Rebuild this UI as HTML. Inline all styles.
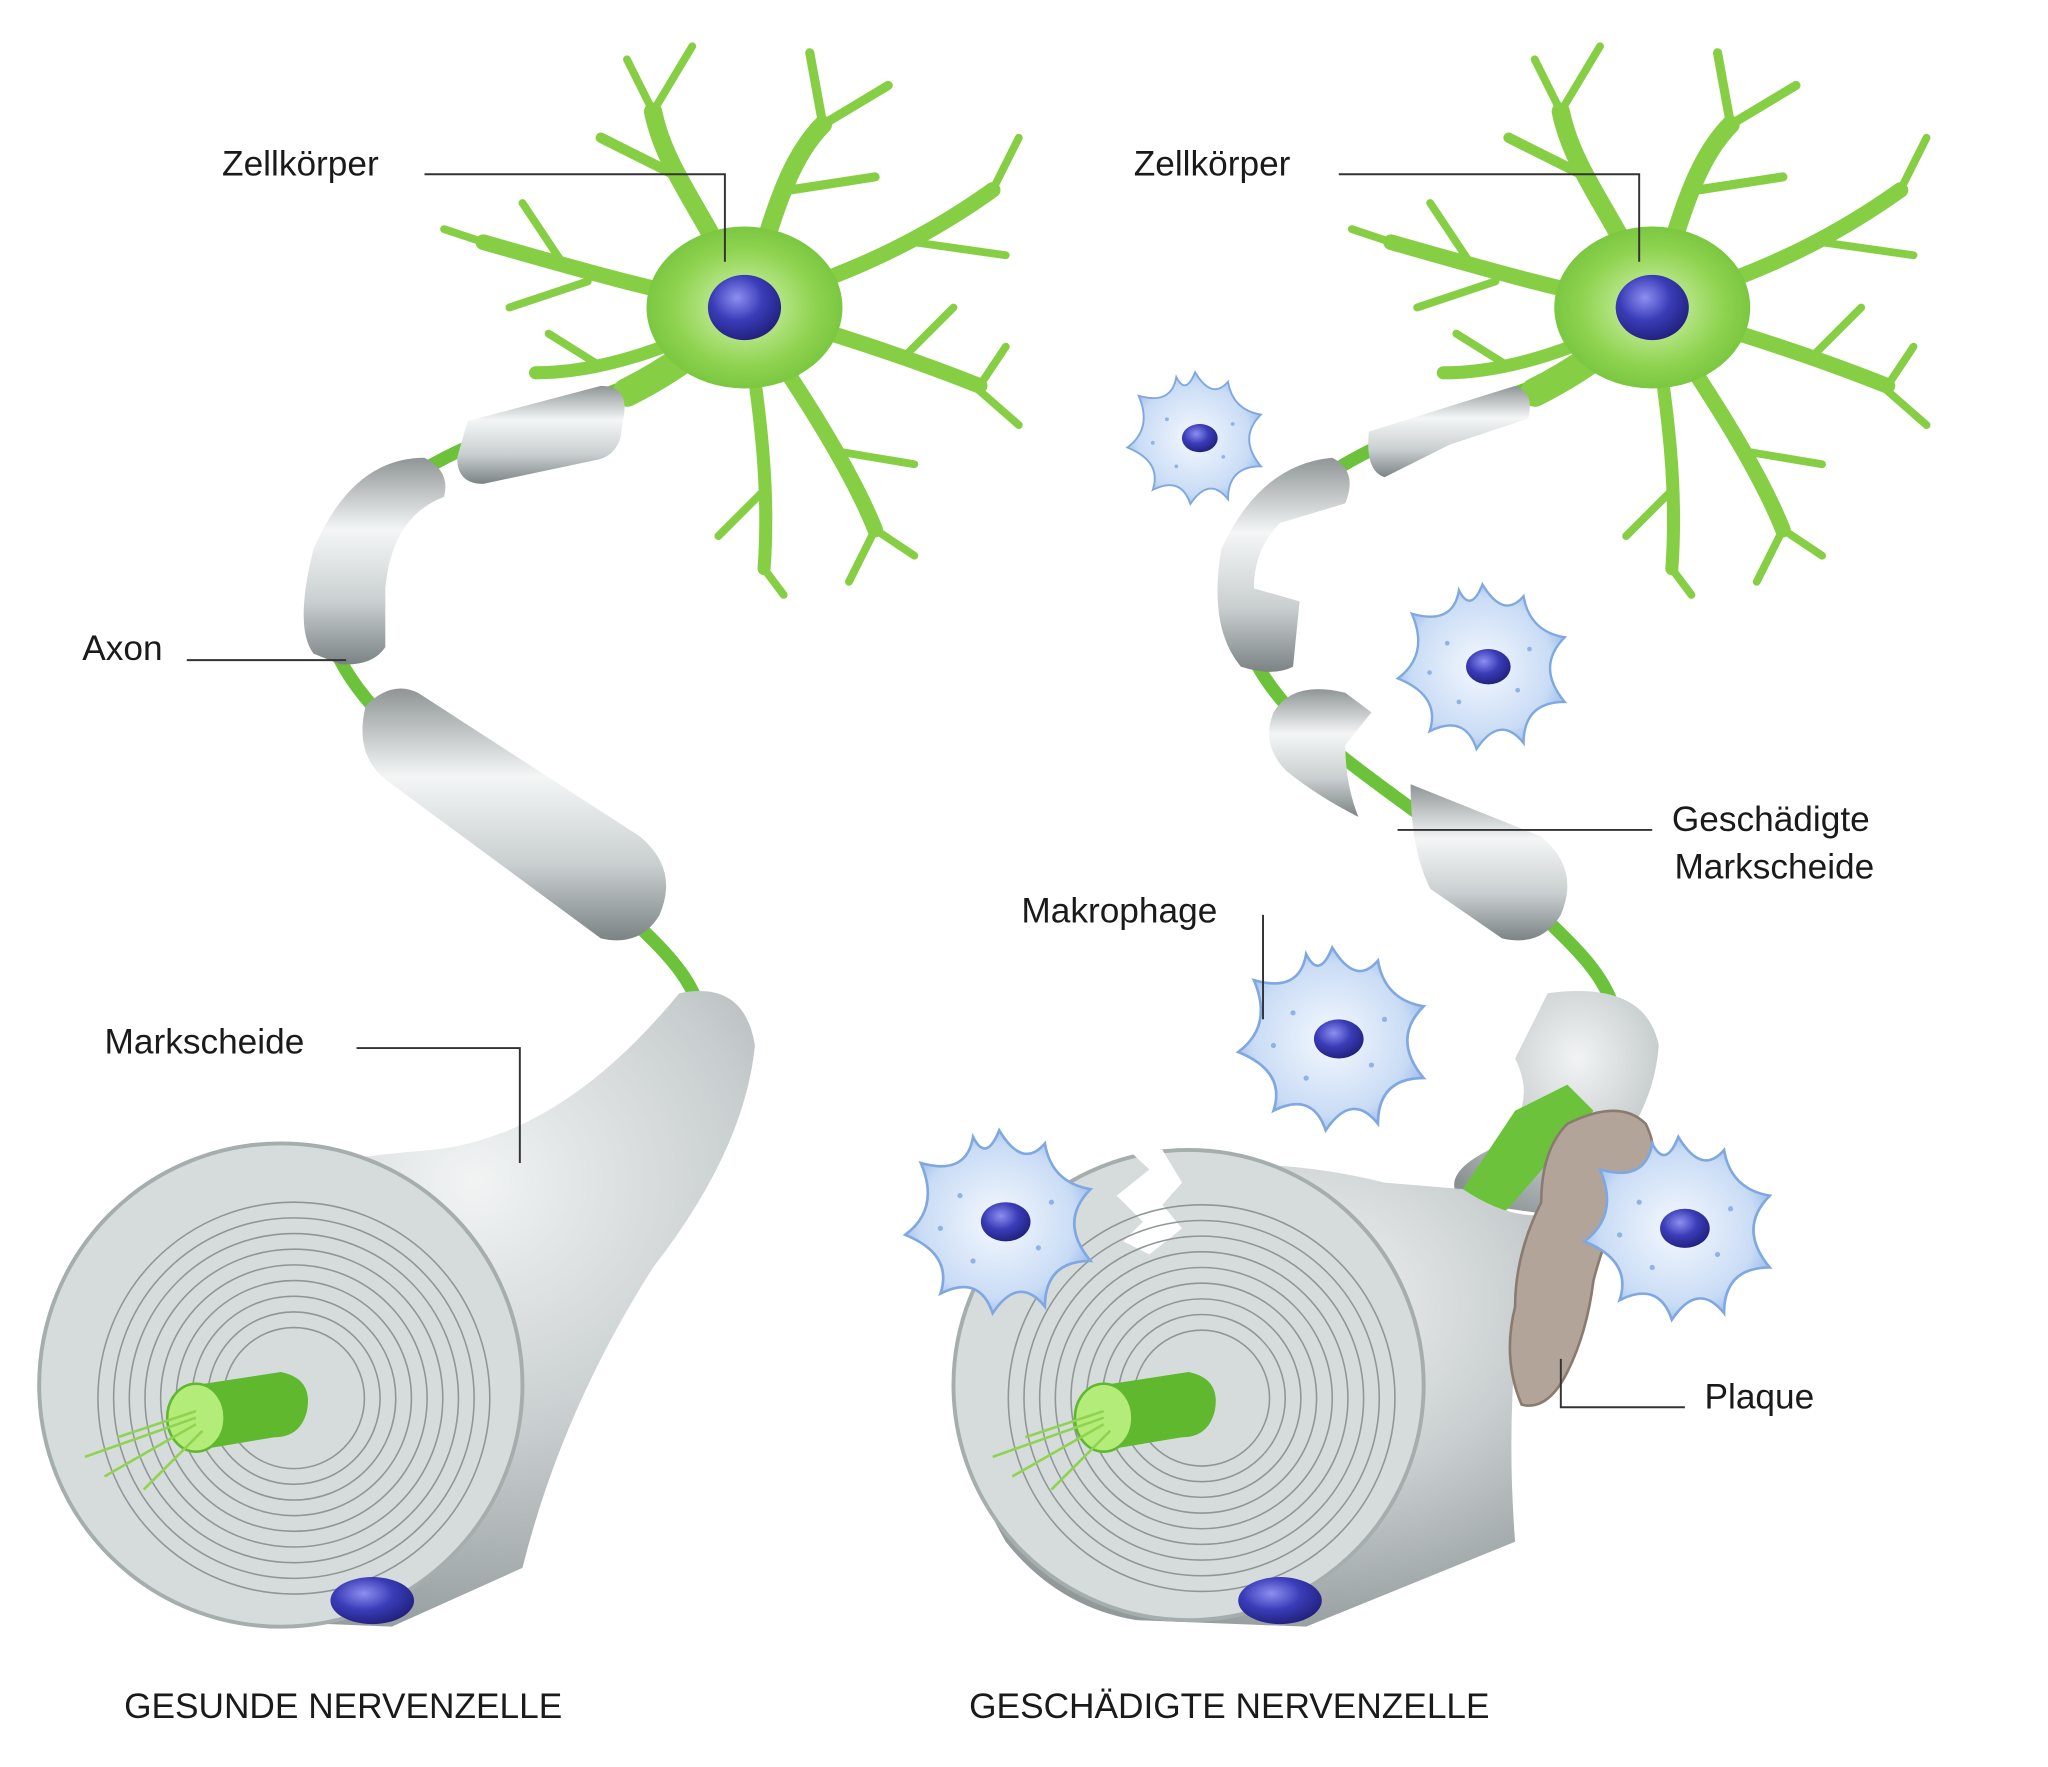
<!DOCTYPE html>
<html><head><meta charset="utf-8">
<style>
html,body{margin:0;padding:0;background:#fff;}
svg{display:block}
text{font-family:"Liberation Sans",sans-serif;fill:#1a1a1a}
</style></head>
<body>
<svg width="2048" height="1767" viewBox="0 0 1568 1352" xmlns="http://www.w3.org/2000/svg">
<defs>
<linearGradient id="my" x1="0" y1="0" x2="0" y2="1">
<stop offset="0" stop-color="#8f9596"/><stop offset="0.35" stop-color="#f4f6f6"/><stop offset="0.7" stop-color="#c9cfd0"/><stop offset="1" stop-color="#7c8384"/></linearGradient>
<radialGradient id="cone" cx="0.6" cy="0.3" r="0.8">
<stop offset="0" stop-color="#f2f4f4"/><stop offset="0.5" stop-color="#c8cecf"/><stop offset="1" stop-color="#8a9192"/></radialGradient>
<radialGradient id="nuc" cx="0.4" cy="0.35" r="0.7">
<stop offset="0" stop-color="#8d8ff0"/><stop offset="0.5" stop-color="#3a3cb8"/><stop offset="1" stop-color="#1e1f78"/></radialGradient>
<radialGradient id="mac" cx="0.5" cy="0.5" r="0.6">
<stop offset="0" stop-color="#f4f8fe"/><stop offset="0.7" stop-color="#c9dcf5"/><stop offset="1" stop-color="#86aee6"/></radialGradient>
<radialGradient id="body" cx="0.5" cy="0.5" r="0.6">
<stop offset="0" stop-color="#d9f5b8"/><stop offset="0.6" stop-color="#8fd350"/><stop offset="1" stop-color="#6cbf35"/></radialGradient>
<g id="neuron">
<g stroke="#86cf45" stroke-linecap="round" fill="none">
<path d="M0 0 C-20 -60 -60 -100 -70 -150" stroke-width="14"/>
<path d="M-50 -100 L-110 -130" stroke-width="8"/>
<path d="M-70 -150 L-90 -190 M-70 -150 L-40 -200" stroke-width="6"/>
<path d="M0 0 C20 -60 30 -110 60 -140" stroke-width="14"/>
<path d="M60 -140 L110 -170 M60 -140 L50 -195 M35 -90 L100 -100" stroke-width="7"/>
<path d="M0 0 C60 -20 120 -40 190 -90" stroke-width="12"/>
<path d="M130 -50 L200 -40 M190 -90 L210 -130" stroke-width="6"/>
<path d="M0 0 C70 20 130 40 180 60" stroke-width="12"/>
<path d="M120 40 L160 0 M180 60 L200 30 M170 55 L210 90" stroke-width="6"/>
<path d="M0 0 C40 60 80 120 100 170" stroke-width="12"/>
<path d="M70 110 L130 120 M100 170 L80 210 M100 170 L130 190" stroke-width="6"/>
<path d="M0 0 C10 70 20 130 15 200" stroke-width="10"/>
<path d="M15 140 L-20 175 M15 200 L30 220" stroke-width="6"/>
<path d="M0 0 C-60 -10 -130 -30 -200 -50" stroke-width="12"/>
<path d="M-140 -35 L-170 -80 M-200 -50 L-230 -60 M-120 -20 L-180 0" stroke-width="6"/>
<path d="M0 0 C-50 30 -110 50 -160 50" stroke-width="10"/>
<path d="M-110 45 L-150 20" stroke-width="6"/>
<path d="M0 0 C-30 30 -60 50 -90 65" stroke-width="22"/>
</g>
<ellipse cx="0" cy="0" rx="75" ry="62" fill="url(#body)"/>
<ellipse cx="0" cy="0" rx="28" ry="25" fill="url(#nuc)"/>
</g>
<g id="macro">
<path d="M0 -70 Q18 -40 35 -60 Q40 -30 70 -25 Q45 0 70 30 Q35 30 35 65 Q15 40 -5 70 Q-15 40 -45 55 Q-35 25 -72 10 Q-45 -10 -60 -45 Q-25 -35 -20 -65 Q-10 -45 0 -70 Z" fill="url(#mac)" stroke="#7fa8e0" stroke-width="2"/>
<g fill="#8fb3e6"><circle cx="-30" cy="-20" r="2"/><circle cx="30" cy="20" r="2"/><circle cx="-20" cy="30" r="2"/><circle cx="40" cy="-15" r="2"/><circle cx="-45" cy="5" r="2"/></g>
<ellipse cx="5" cy="0" rx="19" ry="15" fill="url(#nuc)"/>
</g>
</defs>

<!-- LEFT NEURON -->
<path d="M480 295 C420 320 330 340 270 400 C230 450 250 500 285 540 C330 590 420 640 470 690 C500 720 525 740 535 770" stroke="#6cc23a" stroke-width="10" fill="none"/>
<use href="#neuron" x="570" y="235"/>
<path d="M358 322 L460 295 Q480 295 478 315 L475 335 Q470 350 455 352 L370 370 Q350 370 350 350 Z" fill="url(#my)"/>
<path d="M240 420 Q270 350 325 350 Q345 360 340 380 Q300 395 295 450 L295 495 Q285 510 260 508 L240 500 Q225 480 240 420 Z" fill="url(#my)"/>
<path d="M280 540 Q300 520 320 530 L490 640 Q520 665 505 700 Q490 725 460 718 L300 600 Q270 580 280 540 Z" fill="url(#my)"/>
<path d="M520 760 Q570 750 578 800 Q570 880 500 970 Q430 1080 400 1200 L300 1245 L180 1240 Q120 1230 80 1180 Q40 1110 40 1050 L100 930 Q200 890 330 880 Q430 870 520 760 Z" fill="url(#cone)"/>
<circle cx="215" cy="1060" r="185" fill="#d6dcdc" stroke="#a5adad" stroke-width="3"/>
<g fill="none" stroke="#8e9696" stroke-width="1.2">
<circle cx="225" cy="1070" r="150"/><circle cx="225" cy="1070" r="138"/><circle cx="225" cy="1070" r="126"/><circle cx="225" cy="1070" r="114"/><circle cx="225" cy="1070" r="102"/><circle cx="225" cy="1070" r="90"/><circle cx="225" cy="1070" r="78"/><circle cx="225" cy="1070" r="66"/><circle cx="225" cy="1070" r="54"/></g>
<path d="M150 1060 L215 1050 Q240 1055 235 1080 Q230 1100 210 1100 L150 1110 Z" fill="#5fb82e"/>
<ellipse cx="150" cy="1085" rx="22" ry="26" fill="#b4ec7a" stroke="#5fb82e" stroke-width="2"/>
<g stroke="#8fd350" stroke-width="2"><line x1="150" y1="1085" x2="65" y2="1115"/><line x1="150" y1="1090" x2="80" y2="1130"/><line x1="150" y1="1080" x2="90" y2="1100"/><line x1="155" y1="1095" x2="110" y2="1140"/></g>
<ellipse cx="285" cy="1225" rx="32" ry="18" fill="url(#nuc)"/>

<!-- RIGHT NEURON -->
<path d="M1175 295 C1110 320 1030 340 970 400 C930 450 950 500 985 540 C1030 590 1120 640 1170 690 C1200 720 1225 740 1235 770" stroke="#6cc23a" stroke-width="10" fill="none"/>
<use href="#neuron" x="1265" y="235"/>
<path d="M1048 330 L1160 295 Q1175 300 1170 320 Q1140 330 1110 340 L1060 365 Q1045 360 1048 330 Z" fill="url(#my)"/>
<path d="M935 420 Q965 355 1020 350 Q1040 360 1030 385 L980 400 Q960 420 960 450 L995 460 L990 510 Q975 518 950 510 Q925 480 935 420 Z" fill="url(#my)"/>
<path d="M975 545 Q990 520 1030 530 L1050 545 L1030 570 Q1030 600 1040 625 Q1010 610 985 590 Q965 570 975 545 Z" fill="url(#my)"/>
<path d="M1080 600 L1180 640 Q1210 665 1195 700 Q1180 725 1150 718 L1095 680 Q1080 650 1080 600 Z" fill="url(#my)"/>
<path d="M1185 760 Q1260 750 1270 800 Q1265 870 1190 930 L1120 920 Q1100 900 1140 880 Q1180 850 1160 810 Z" fill="url(#cone)"/>
<path d="M1160 850 L1200 830 L1220 850 L1150 930 L1120 910 Z" fill="#6cc23a"/>
<path d="M1120 910 Q1150 930 1175 930 Q1150 1050 1160 1180 L1000 1245 L870 1240 Q810 1230 770 1180 Q730 1110 735 1050 L780 980 L860 900 Q960 880 1060 905 Z" fill="url(#cone)"/>
<circle cx="910" cy="1060" r="180" fill="#d6dcdc" stroke="#a5adad" stroke-width="3"/>
<path d="M862 878 L880 895 L855 915 L875 935 L860 950 L880 960 L905 940 L890 922 L905 905 L890 880 Z" fill="#fff"/>
<g fill="none" stroke="#8e9696" stroke-width="1.2">
<circle cx="920" cy="1070" r="148"/><circle cx="920" cy="1070" r="136"/><circle cx="920" cy="1070" r="124"/><circle cx="920" cy="1070" r="112"/><circle cx="920" cy="1070" r="100"/><circle cx="920" cy="1070" r="88"/><circle cx="920" cy="1070" r="76"/><circle cx="920" cy="1070" r="64"/><circle cx="920" cy="1070" r="52"/></g>
<path d="M845 1060 L910 1050 Q935 1055 930 1080 Q925 1100 905 1100 L845 1110 Z" fill="#5fb82e"/>
<ellipse cx="845" cy="1085" rx="22" ry="26" fill="#b4ec7a" stroke="#5fb82e" stroke-width="2"/>
<g stroke="#8fd350" stroke-width="2"><line x1="845" y1="1085" x2="760" y2="1115"/><line x1="845" y1="1090" x2="775" y2="1130"/><line x1="845" y1="1080" x2="785" y2="1100"/><line x1="850" y1="1095" x2="805" y2="1140"/></g>
<ellipse cx="980" cy="1225" rx="32" ry="18" fill="url(#nuc)"/>
<path d="M1200 860 Q1240 840 1260 860 Q1275 890 1250 910 Q1230 940 1220 980 Q1215 1020 1200 1050 Q1185 1080 1165 1075 Q1150 1040 1160 1000 Q1160 960 1180 920 Q1180 880 1200 860 Z" fill="#b3a49a" stroke="#8a7b70" stroke-width="2"/>
<use href="#macro" transform="translate(915 335) scale(0.72)"/>
<use href="#macro" transform="translate(1135 510) scale(0.9)"/>
<use href="#macro" transform="translate(1020 795)"/>
<use href="#macro" transform="translate(765 935)"/>
<use href="#macro" transform="translate(1285 940)"/>

<g stroke="#333" stroke-width="1.5" fill="none">
<path d="M325 133 H555 V200"/><path d="M143 505 H265"/><path d="M273 802 H398 V890"/>
<path d="M1025 133 H1255 V200"/><path d="M1265 635 H1070"/><path d="M967 700 V780"/><path d="M1290 1077 H1195 V1040"/>
</g>
<g font-size="27">
<text x="170" y="134">Zellkörper</text>
<text x="63" y="505">Axon</text>
<text x="80" y="806">Markscheide</text>
<text x="868" y="134">Zellkörper</text>
<text x="1280" y="636">Geschädigte</text>
<text x="1282" y="672">Markscheide</text>
<text x="782" y="706">Makrophage</text>
<text x="1305" y="1078">Plaque</text>
<text x="95" y="1315">GESUNDE NERVENZELLE</text>
<text x="742" y="1315">GESCHÄDIGTE NERVENZELLE</text>
</g>
</svg>
</body></html>
